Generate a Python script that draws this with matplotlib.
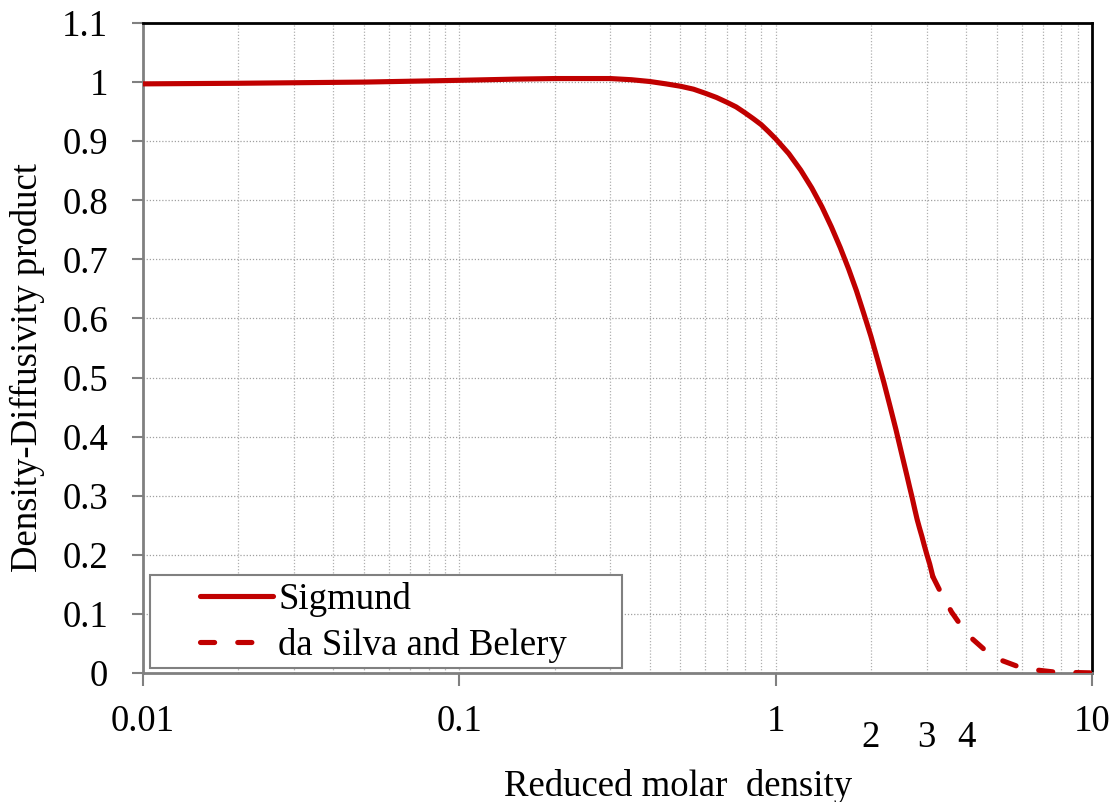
import matplotlib
matplotlib.use("Agg")
import matplotlib.pyplot as plt
from matplotlib.patches import Rectangle
from matplotlib.ticker import FixedLocator, FixedFormatter

# Data
sigmund_x = [0.01, 0.02, 0.05, 0.1, 0.15, 0.2, 0.25, 0.3, 0.35, 0.4, 0.45, 0.5, 0.55,
             0.6, 0.65, 0.7, 0.75, 0.8, 0.85, 0.9, 0.95, 1.0, 1.1, 1.2, 1.3, 1.4,
             1.5, 1.6, 1.7, 1.8, 1.9, 2.0, 2.1, 2.2, 2.3, 2.4, 2.5, 2.6, 2.65, 2.7,
             2.75, 2.8, 2.85, 2.9, 2.95, 3.0, 3.07, 3.14]
sigmund_y = [0.997, 0.998, 1.000, 1.003, 1.005, 1.006, 1.006, 1.006, 1.004, 1.001,
             0.997, 0.993, 0.988, 0.981, 0.974, 0.966, 0.958, 0.948, 0.938, 0.928,
             0.916, 0.904, 0.879, 0.851, 0.821, 0.789, 0.755, 0.720, 0.684, 0.647,
             0.608, 0.570, 0.530, 0.491, 0.451, 0.412, 0.372, 0.334, 0.315, 0.297,
             0.278, 0.260, 0.245, 0.231, 0.216, 0.202, 0.184, 0.163]
silva_x = [3.14, 3.35, 3.6, 3.88, 4.2, 4.65, 5.2, 5.9, 6.7, 7.5, 8.5, 10.0]
silva_y = [0.163, 0.133, 0.103, 0.078, 0.057, 0.036, 0.021, 0.010, 0.005, 0.002, 0.001, 0.0002]

major_ticks = [0.01, 0.1, 1, 10]
major_labels = ["0.01", "0.1", "1", "10"]
minor_label_ticks = [2, 3, 4]
minor_labels = ["2", "3", "4"]
y_ticks = [0, 0.1, 0.2, 0.3, 0.4, 0.5, 0.6, 0.7, 0.8, 0.9, 1.0, 1.1]
y_labels = ["0", "0.1", "0.2", "0.3", "0.4", "0.5", "0.6", "0.7", "0.8", "0.9", "1", "1.1"]

plt.rcParams["font.family"] = ["Liberation Serif", "DejaVu Serif"]
FS = 26.5

W, H = 1120, 802
fig = plt.figure(figsize=(W / 100, H / 100), dpi=100)
ax = fig.add_axes([143 / W, 1 - 673 / H, (1092 - 143) / W, (673 - 23) / H])

red = "#c00000"
ax.plot(sigmund_x, sigmund_y, color=red, lw=3.7, solid_capstyle="round",
        solid_joinstyle="round", label="Sigmund", zorder=3)
ax.plot(silva_x, silva_y, color=red, lw=3.7, dashes=(2.75, 4.5),
        dash_capstyle="round", dash_joinstyle="round",
        label="da Silva and Belery", zorder=3)

ax.set_xscale("log")
ax.set_xlim(0.01, 10)
ax.set_ylim(0, 1.1)

# grid
minor_all = []
for dec in [0.01, 0.1, 1]:
    for k in range(2, 10):
        minor_all.append(dec * k)
for xv in minor_all + major_ticks[1:-1]:
    ax.axvline(xv, color="#b0b0b0", lw=0.9, ls=(0, (1, 1.5)), zorder=1)
for yv in y_ticks[1:-1]:
    ax.axhline(yv, color="#a0a0a0", lw=0.9, ls=(0, (1, 1.5)), zorder=1)

ax.xaxis.set_major_locator(FixedLocator(major_ticks))
ax.xaxis.set_major_formatter(FixedFormatter(major_labels))
ax.xaxis.set_minor_locator(FixedLocator(minor_label_ticks))
ax.xaxis.set_minor_formatter(FixedFormatter(minor_labels))
ax.set_yticks(y_ticks)
ax.set_yticklabels(y_labels)

ax.tick_params(axis="x", which="major", direction="out", length=9, width=1.5,
               color="#808080", pad=13.5, labelsize=FS)
ax.tick_params(axis="x", which="minor", length=0, pad=34, labelsize=FS)
ax.tick_params(axis="y", direction="out", length=8, width=1.5,
               color="#808080", pad=17, labelsize=FS)

for s in ["left", "bottom"]:
    ax.spines[s].set_color("#808080")
    ax.spines[s].set_linewidth(2)
for s in ["top", "right"]:
    ax.spines[s].set_color("black")
    ax.spines[s].set_linewidth(2)

fig.text(27 / W, 1 - 368 / H, "Density-Diffusivity product", fontsize=FS,
         rotation=90, ha="center", va="center")
fig.text(678 / W, 1 - 786 / H, "Reduced molar  density", fontsize=FS,
         ha="center", va="center")

# legend box
box = Rectangle((150 / W, 1 - 668 / H), 472 / W, 93 / H, transform=fig.transFigure,
                facecolor="white", edgecolor="#808080", lw=1.5, zorder=4)
ax.add_patch(box)
leg = ax.legend(loc="center left", bbox_to_anchor=(200 / W, 1 - 622.5 / H),
                bbox_transform=fig.transFigure, fontsize=FS, frameon=False,
                handlelength=1.98, handletextpad=0.14, borderpad=0,
                labelspacing=0.31, borderaxespad=0)
leg.set_zorder(5)

fig.savefig("out.png", dpi=100)
